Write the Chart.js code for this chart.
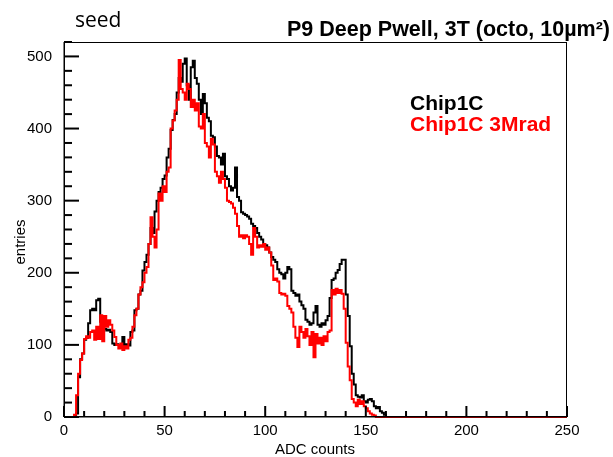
<!DOCTYPE html>
<html>
<head>
<meta charset="utf-8">
<script src="https://cdn.jsdelivr.net/npm/chart.js@4.4.1/dist/chart.umd.min.js"></script>
<style>
  html, body { margin: 0; padding: 0; background: #fff; }
  #wrap { width: 613px; height: 457px; }
</style>
</head>
<body>
<div id="wrap"><canvas id="hist"></canvas></div>
<script>
// histogram: 1 ADC count per bin, bins start at 0
const binCount = 250;
const xTicks = [0, 50, 100, 150, 200, 250];
const yTicks = [0, 100, 200, 300, 400, 500];

const seriesNames = ["Chip1C", "Chip1C 3Mrad"];
const seriesColors = ["#000000", "#ff0000"];

// counts for bins 0..160, everything above is empty
const chip1c = [
  0, 0, 0, 0, 0, 0, 5, 55, 80, 88,
  107, 110, 130, 148, 150, 148, 162, 164, 132, 130,
  122, 120, 121, 118, 102, 100, 101, 100, 98, 111,
  100, 101, 99, 118, 120, 148, 150, 170, 175, 203,
  215, 225, 240, 262, 255, 285, 300, 312, 318, 330,
  335, 360, 372, 398, 412, 420, 450, 470, 465, 490,
  497, 460, 440, 485, 494, 470, 462, 440, 420, 448,
  435, 415, 410, 390, 388, 375, 362, 360, 350, 365,
  334, 330, 320, 314, 318, 346, 305, 300, 284, 282,
  280, 278, 275, 268, 265, 262, 255, 250, 246, 240,
  238, 235, 228, 222, 218, 215, 205, 200, 198, 192,
  200, 208, 205, 175, 172, 168, 170, 160, 155, 150,
  135, 132, 128, 130, 145, 154, 128, 125, 130, 128,
  134, 140, 165, 190, 192, 200, 204, 212, 218, 218,
  170, 140, 98, 60, 45, 30, 28, 27, 30, 22,
  20, 24, 25, 22, 15, 12, 14, 8, 6, 3,
  0
];

const chip1c3mrad = [
  0, 0, 0, 0, 0, 3, 30, 60, 79, 88,
  108, 112, 110, 118, 120, 107, 125, 108, 141, 105,
  140, 125, 134, 128, 120, 111, 100, 95, 102, 93,
  98, 95, 107, 110, 125, 141, 150, 170, 180, 187,
  200, 208, 240, 277, 250, 235, 260, 310, 300, 320,
  312, 340, 346, 400, 411, 425, 440, 495, 455, 450,
  440, 462, 455, 430, 440, 425, 435, 403, 400, 420,
  380, 375, 360, 386, 378, 340, 334, 325, 340, 330,
  318, 300, 298, 296, 290, 282, 265, 250, 252, 248,
  252, 250, 240, 225, 262, 250, 235, 238, 236, 240,
  232, 235, 228, 210, 190, 192, 188, 172, 170, 171,
  168, 154, 150, 145, 125, 110, 97, 125, 118, 110,
  122, 112, 100, 118, 83, 115, 102, 110, 100, 112,
  105, 118, 120, 176, 170, 178, 172, 176, 171, 150,
  103, 70, 51, 25, 20, 15, 24, 18, 22, 15,
  12, 8, 5, 3, 2, 0, 0, 0, 0, 0,
  0
];

const xMinorStep = 10;
const yMinorStep = 20;

function toPoints(counts) {
  const pts = [];
  for (let i = 0; i <= binCount; i++) {
    pts.push({ x: i, y: i < counts.length ? counts[i] : 0 });
  }
  return pts;
}

// ROOT-like frame with inward ticks
const rootFrame = {
  id: "rootFrame",
  beforeDatasetsDraw(chart) {
    const { ctx, chartArea: a } = chart;
    ctx.save();
    ctx.strokeStyle = "#000";
    ctx.lineWidth = 1;
    ctx.strokeRect(a.left + 0.5, a.top + 0.5, a.right - a.left - 1, a.bottom - a.top - 1);
    ctx.restore();
  },
  afterDraw(chart) {
    const ctx = chart.ctx;
    const a = chart.chartArea;
    const xs = chart.scales.x;
    const ys = chart.scales.y;
    ctx.save();
    ctx.fillStyle = "#000";
    let n = 0;
    for (let v = xs.min; v <= xs.max; v += xMinorStep) {
      const px = xs.getPixelForValue(v);
      const len = n % 5 === 0 ? 11 : 6;
      ctx.fillRect(px - 1, a.bottom - len, 2, len);
      n++;
    }
    n = 0;
    for (let v = ys.min; v <= ys.max; v += yMinorStep) {
      const py = ys.getPixelForValue(v);
      const len = n % 5 === 0 ? 15 : 8;
      ctx.fillRect(a.left, py - 1, len, 2);
      n++;
    }
    ctx.fillRect(a.left - 0.5, a.top, 1.5, a.bottom - a.top);
    ctx.fillRect(a.left, a.bottom - 1, a.right - a.left, 1.5);

    ctx.textBaseline = "alphabetic";
    ctx.font = "21px 'Open Sans'";
    ctx.textAlign = "left";
    ctx.fillText("seed", 75, 27);

    ctx.font = "bold 21.5px 'Liberation Sans'";
    ctx.textAlign = "right";
    ctx.fillText("P9 Deep Pwell, 3T (octo, 10\u00b5m\u00b2)", 610, 36);

    ctx.font = "bold 21px 'Liberation Sans'";
    ctx.textAlign = "left";
    chart.data.datasets.forEach((ds, i) => {
      ctx.fillStyle = ds.borderColor;
      ctx.fillText(ds.label, 410, 110 + i * 21);
    });

    ctx.fillStyle = "#000";
    ctx.font = "15px 'Liberation Sans'";
    ctx.textAlign = "center";
    ctx.fillText("ADC counts", 315, 454);

    ctx.translate(25, 242);
    ctx.rotate(-Math.PI / 2);
    ctx.fillText("entries", 0, 0);
    ctx.restore();
  }
};

document.addEventListener("DOMContentLoaded", () => {
  const ctx = document.getElementById("hist").getContext("2d");

  new Chart(ctx, {
    type: "line",
    data: {
      datasets: [
        {
          label: seriesNames[0],
          data: toPoints(chip1c),
          borderColor: seriesColors[0],
          borderWidth: 2,
          stepped: true,
          pointRadius: 0,
          fill: false,
          order: 2,
        },
        {
          label: seriesNames[1],
          data: toPoints(chip1c3mrad),
          borderColor: seriesColors[1],
          borderWidth: 2,
          stepped: true,
          pointRadius: 0,
          fill: false,
          order: 1,
          clip: false,
        },
      ],
    },
    options: {
      responsive: true,
      maintainAspectRatio: false,
      animation: false,
      layout: { padding: { left: 0, top: 42, right: 46, bottom: 0 } },
      plugins: {
        legend: { display: false },
        tooltip: { enabled: false },
      },
      scales: {
        x: {
          type: "linear",
          min: xTicks[0],
          max: xTicks[xTicks.length - 1],
          grid: { display: false },
          border: { display: false },
          afterBuildTicks: (s) => { s.ticks = xTicks.map((v) => ({ value: v })); },
          afterFit: (s) => { s.height = 40; },
          ticks: {
            color: "#000",
            padding: -3,
            maxRotation: 0,
            font: { family: "'Liberation Sans'", size: 15 },
          },
        },
        y: {
          min: 0,
          max: 520,
          grid: { display: false },
          border: { display: false },
          afterBuildTicks: (s) => { s.ticks = yTicks.map((v) => ({ value: v })); },
          afterFit: (s) => { s.width = 64; },
          ticks: {
            color: "#000",
            padding: 4,
            font: { family: "'Liberation Sans'", size: 15 },
          },
        },
      },
    },
    plugins: [rootFrame],
  });
});
</script>
</body>
</html>
